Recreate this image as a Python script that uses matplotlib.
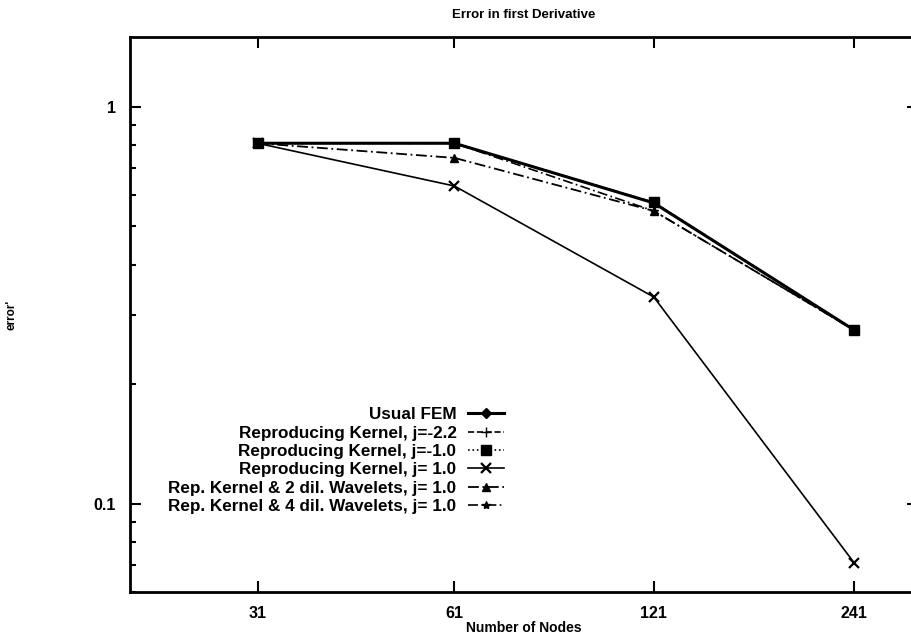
import matplotlib
matplotlib.use("Agg")
import matplotlib.pyplot as plt
from matplotlib.ticker import FixedLocator, NullLocator, LogLocator, NullFormatter, FixedFormatter

plt.rcParams.update({
    "font.family": ["Liberation Sans", "DejaVu Sans"],
    "font.weight": "bold",
    "font.size": 9.5,
})

nodes = [31, 61, 121, 241]
node_labels = ["31", "61", "121", "241"]

usual_fem = [0.81, 0.81, 0.573, 0.274]
rk_22 = [0.81, 0.81, 0.573, 0.274]
rk_m10 = [0.81, 0.81, 0.575, 0.274]
rk_10 = [0.81, 0.632, 0.332, 0.071]
rk_2dil = [0.81, 0.744, 0.547, 0.274]
rk_4dil = [0.81, 0.81, 0.547, 0.274]

labels = [
    "Usual FEM",
    "Reproducing Kernel, j=-2.2",
    "Reproducing Kernel, j=-1.0",
    "Reproducing Kernel, j= 1.0",
    "Rep. Kernel & 2 dil. Wavelets, j= 1.0",
    "Rep. Kernel & 4 dil. Wavelets, j= 1.0",
]

fig = plt.figure(figsize=(9.11, 6.4), dpi=100)
ax = fig.add_axes([130 / 911, 48 / 640, 788 / 911, 555 / 640])

ax.plot(nodes, usual_fem, color="black", lw=2.2, marker="D", ms=5, label=labels[0], zorder=5)
ax.plot(nodes, rk_22, color="black", lw=1.2, ls="--", marker="+", ms=7, label=labels[1], zorder=4)
ax.plot(nodes, rk_4dil, color="black", lw=1.2, ls=(0, (6, 2, 1, 2)), marker="*", ms=6, label=labels[5], zorder=3)
ax.plot(nodes, rk_m10, color="black", lw=1.2, ls=":", marker="s", ms=7, label=labels[2], zorder=6)
ax.plot(nodes, rk_10, color="black", lw=1.2, marker="x", ms=7, mew=1.6, label=labels[3], zorder=4)
ax.plot(nodes, rk_2dil, color="black", lw=1.3, ls=(0, (6, 2, 1, 2)), marker="^", ms=6, label=labels[4], zorder=4)

ax.set_xscale("log")
ax.set_yscale("log")
ax.set_xlim(20, 300)
ax.set_ylim(0.06, 1.5)

ax.xaxis.set_major_locator(FixedLocator(nodes))
ax.xaxis.set_major_formatter(FixedFormatter(node_labels))
ax.xaxis.set_minor_locator(NullLocator())
ax.yaxis.set_major_locator(FixedLocator([0.1, 1]))
ax.yaxis.set_major_formatter(FixedFormatter(["0.1", "1"]))
ax.yaxis.set_minor_locator(LogLocator(base=10, subs=range(2, 10)))
ax.yaxis.set_minor_formatter(NullFormatter())

ax.tick_params(which="both", direction="in", top=True, right=True, width=1.5, labelsize=11.5)
ax.tick_params(which="major", length=8, pad=10)
ax.tick_params(which="minor", length=4)
for sp in ax.spines.values():
    sp.set_linewidth(2)

ax.set_title("Error in first Derivative", fontsize=9.5, fontweight="bold", pad=14)
ax.set_xlabel("Number of Nodes", fontsize=10, fontweight="bold", labelpad=0)
ax.set_ylabel("error'", fontsize=8.5, fontweight="bold")
ax.yaxis.set_label_coords(-0.143, 0.5)

handles, hlabels = ax.get_legend_handles_labels()
order = [hlabels.index(l) for l in labels]
ax.legend([handles[i] for i in order], [hlabels[i] for i in order],
          loc="upper right", bbox_to_anchor=(0.475, 0.333), frameon=False,
          markerfirst=False, borderpad=0, borderaxespad=0,
          handlelength=2.1, handletextpad=0.7, labelspacing=0.2,
          fontsize=12.3)

fig.savefig("out.png", dpi=100)
